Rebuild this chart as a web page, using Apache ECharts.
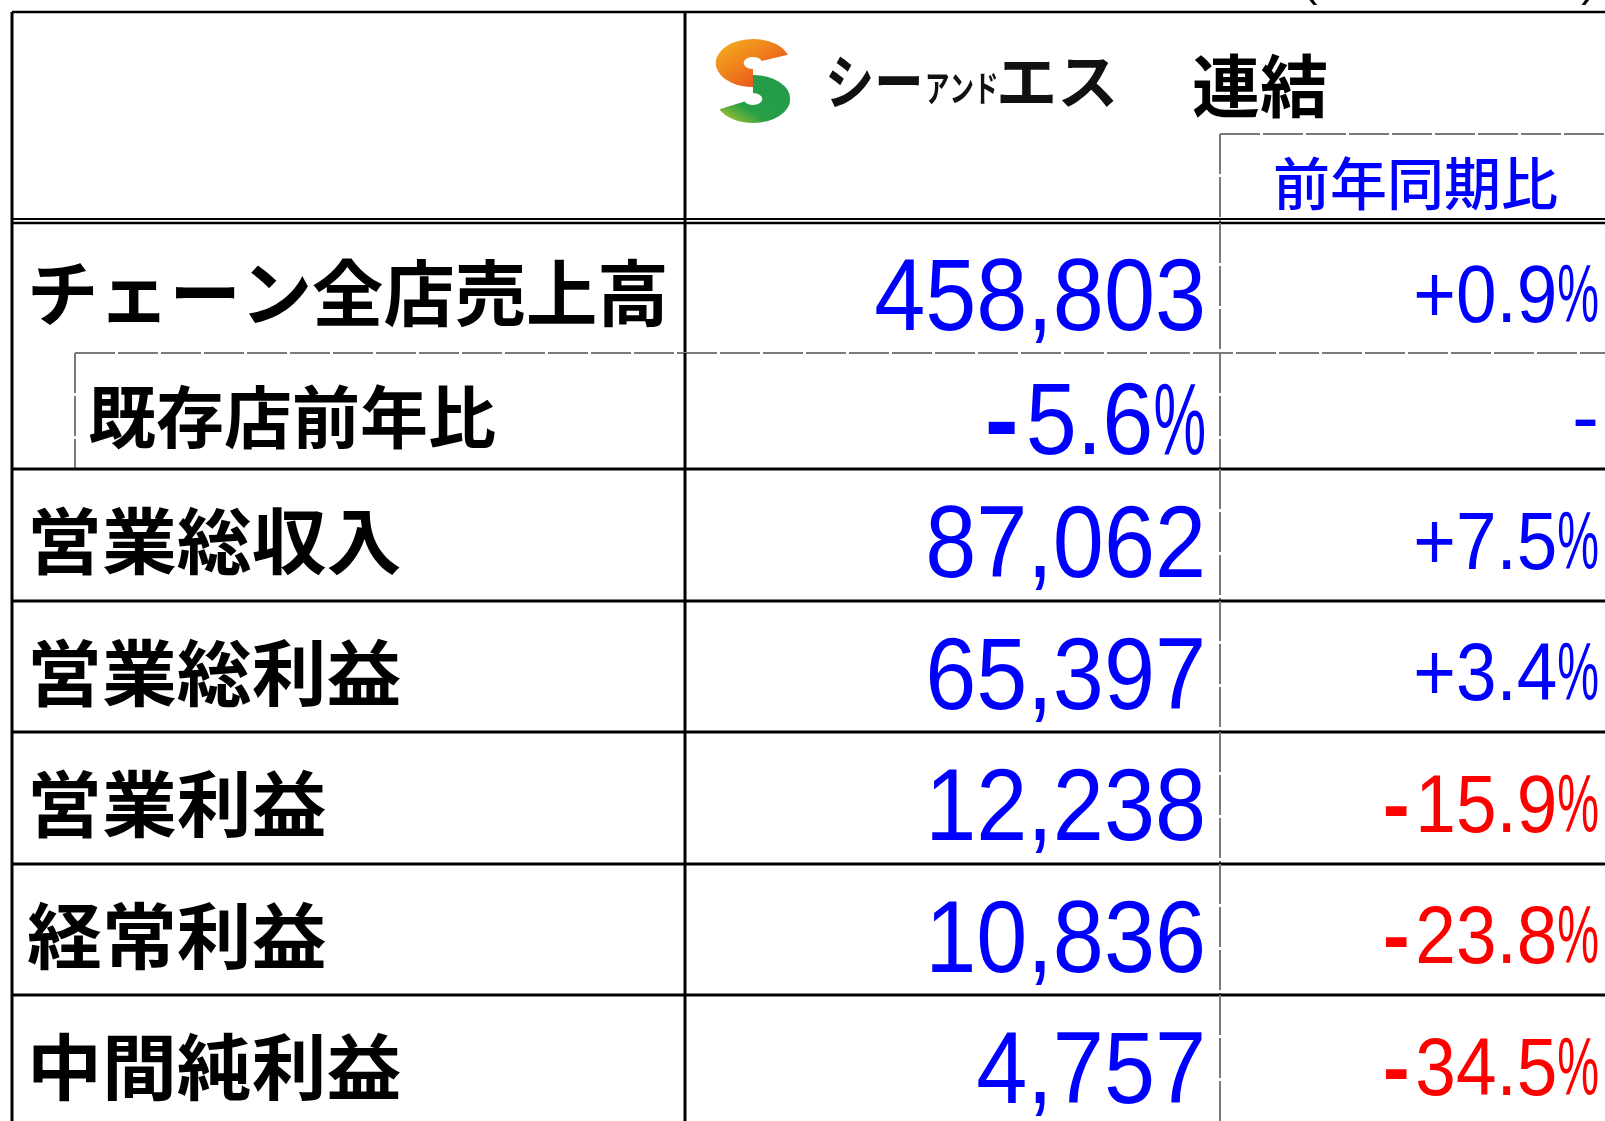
<!DOCTYPE html>
<html>
<head>
<meta charset="utf-8">
<script src="https://cdn.jsdelivr.net/npm/echarts@6/dist/echarts.min.js"></script>
<style>
  html, body { margin: 0; padding: 0; background: #fff; }
  #main { width: 1605px; height: 1121px; }
</style>
</head>
<body>
<div id="main"></div>
<script>
// 表の中身
var labels = ['チェーン全店売上高', '既存店前年比', '営業総収入', '営業総利益', '営業利益', '経常利益', '中間純利益'];
var values = ['458,803', '-5.6%', '87,062', '65,397', '12,238', '10,836', '4,757'];
var yoy = ['+0.9%', '-', '+7.5%', '+3.4%', '-15.9%', '-23.8%', '-34.5%'];
var companyBig1 = 'シー';
var companySmall = 'アンド';
var companyBig2 = 'エス';
var headerTitle = '連結';
var yoyTitle = '前年同期比';
var unitNote = '(単位：百万円)';

// レイアウト (px)
var X_LEFT = 12, X_INDENT = 75, X_VAL = 685, X_YOY = 1220, X_RIGHT = 1605;
var Y_TOP = 12, Y_SUB = 134, Y_DBL = 219;
var bodyEdges = [223, 353, 469, 601, 732, 864, 995, 1127];

var JP = '"Noto Sans CJK JP"';
var NUM = '"Liberation Sans", Arial';
var BLUE = '#0000ff', RED = '#ff0000';
var NUM_SX = 0.9, PCT_SX = 0.58;

var mctx = document.createElement('canvas').getContext('2d');
function tw(font, s) { mctx.font = font; return mctx.measureText(s).width; }

function seg(api, x1, y1, x2, y2, dotted, w) {
    var a = api.coord([x1, y1]), b = api.coord([x2, y2]);
    return {
        type: 'line',
        shape: { x1: a[0], y1: a[1], x2: b[0], y2: b[1] },
        style: dotted
            ? { stroke: '#7a7a7a', lineWidth: 2, lineDash: [40, 3] }
            : { stroke: '#000', lineWidth: w || 3 }
    };
}

function txt(api, x, y, text, font, fill, align, sx) {
    var p = api.coord([x, y]);
    return {
        type: 'text',
        x: p[0], y: p[1],
        scaleX: sx || 1,
        style: { text: text, font: font, fill: fill, align: align, verticalAlign: 'middle' }
    };
}

// 数字: 本体は少し細く、% はもっと細く、マイナスは太め
function numText(api, c, x, y, s, size, color) {
    var font = size + 'px ' + NUM;
    if (s === '-') { c.push(txt(api, x, y, s, font, color, 'right')); return; }
    var neg = s.charAt(0) === '-';
    var pct = s.charAt(s.length - 1) === '%';
    var body = s.slice(neg ? 1 : 0, pct ? s.length - 1 : s.length);
    if (pct) {
        c.push(txt(api, x, y, '%', font, color, 'right', PCT_SX));
        x -= tw(font, '%') * PCT_SX;
    }
    c.push(txt(api, x, y, body, font, color, 'right', NUM_SX));
    x -= tw(font, body) * NUM_SX;
    if (neg) c.push(txt(api, x - size * 0.07, y, '-', 'bold ' + font, color, 'right'));
}

function logoArc(api, cx, cy, r, lw, a0, a1, cw, grad) {
    var p = api.coord([cx, cy]);
    return {
        type: 'arc', x: p[0], y: p[1], scaleX: 1.55,
        shape: { cx: 0, cy: 0, r: r, startAngle: a0, endAngle: a1, clockwise: cw },
        style: { fill: null, stroke: grad, lineWidth: lw, lineCap: 'butt' }
    };
}

function renderHeader(params, api) {
    var c = [];
    c.push(seg(api, X_LEFT, Y_TOP, X_RIGHT, Y_TOP, false, 2.5));
    c.push(seg(api, X_LEFT, Y_TOP, X_LEFT, bodyEdges[0]));
    c.push(seg(api, X_VAL, Y_TOP, X_VAL, bodyEdges[0]));
    c.push(seg(api, X_YOY, Y_SUB, X_YOY, bodyEdges[0], true));
    c.push(seg(api, X_YOY, Y_SUB, X_RIGHT, Y_SUB, true));
    c.push(seg(api, X_LEFT, Y_DBL, X_RIGHT, Y_DBL, false, 2));
    c.push(seg(api, X_LEFT, bodyEdges[0], X_RIGHT, bodyEdges[0], false, 2.5));

    // ロゴ (S マーク)
    var G = echarts.graphic.LinearGradient;
    c.push(logoArc(api, 753, 63, 15, 18, -0.35, Math.PI / 2, false,
        new G(0, 0, 1, 1, [
            { offset: 0, color: '#f4b41e' },
            { offset: 0.5, color: '#ef7a1c' },
            { offset: 1, color: '#e2361c' }
        ])));
    c.push(logoArc(api, 753, 99, 15, 18, -Math.PI / 2, 2.7, true,
        new G(1, 0, 0, 1, [
            { offset: 0, color: '#23994a' },
            { offset: 0.65, color: '#27a046' },
            { offset: 1, color: '#c9c92e' }
        ])));
    c.push(txt(api, 825, 81, companyBig1, 'bold 60px ' + JP, '#111', 'left', 0.82));
    c.push(txt(api, 925, 88, companySmall, 'bold 36px ' + JP, '#111', 'left', 0.68));
    c.push(txt(api, 996, 81, companyBig2, 'bold 60px ' + JP, '#111', 'left', 1.02));

    c.push(txt(api, 1192, 86, headerTitle, 'bold 68px ' + JP, '#000', 'left'));
    c.push(txt(api, 1273, 183, yoyTitle, '500 57px ' + JP, BLUE, 'left'));
    c.push(txt(api, 1596, -16, unitNote, '44px ' + NUM + ', ' + JP, '#000', 'right'));
    return { type: 'group', children: c };
}

function renderRow(params, api) {
    var i = api.value(1);
    var top = bodyEdges[i], bot = bodyEdges[i + 1], mid = (top + bot) / 2;
    var c = [];
    c.push(seg(api, X_LEFT, top, X_LEFT, bot));
    c.push(seg(api, X_VAL, top, X_VAL, bot));
    c.push(seg(api, X_YOY, top, X_YOY, bot, true));
    if (i === 1) c.push(seg(api, X_INDENT, top, X_INDENT, bot, true));
    if (i === 0) c.push(seg(api, X_INDENT, bot, X_RIGHT, bot, true));
    else c.push(seg(api, X_LEFT, bot, X_RIGHT, bot));

    if (i === 0) c.push(txt(api, 27, mid + 5, labels[i], 'bold 72px ' + JP, '#000', 'left', 0.99));
    else if (i === 1) c.push(txt(api, 88, mid + 6, labels[i], 'bold 68px ' + JP, '#000', 'left'));
    else c.push(txt(api, 27, mid + 6, labels[i], 'bold 72px ' + JP, '#000', 'left', 1.04));

    numText(api, c, 1206, mid + (i === 1 ? 15 : 14), values[i], 102, BLUE);

    var v = yoy[i];
    var neg = v.charAt(0) === '-' && v.length > 1;
    numText(api, c, 1599, mid + 11.5, v, 81, neg ? RED : BLUE);
    return { type: 'group', children: c };
}

var chart = echarts.init(document.getElementById('main'));
chart.setOption({
    backgroundColor: '#fff',
    animation: false,
    grid: { left: 0, right: 0, top: 0, bottom: 0 },
    xAxis: { type: 'value', min: 0, max: 1605, show: false },
    yAxis: { type: 'value', min: 0, max: 1121, inverse: true, show: false },
    series: [
        {
            type: 'custom',
            renderItem: renderHeader,
            data: [[0, 0]],
            silent: true
        },
        {
            type: 'custom',
            renderItem: renderRow,
            data: labels.map(function (l, i) { return [0, i]; }),
            silent: true
        }
    ]
});
</script>
</body>
</html>
